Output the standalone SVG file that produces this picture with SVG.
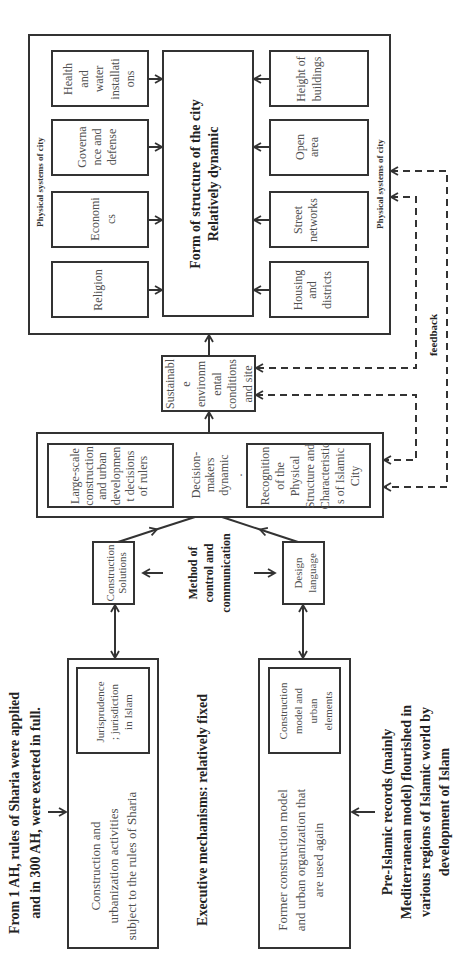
<svg xmlns="http://www.w3.org/2000/svg" width="470" height="954" viewBox="0 0 470 954">
<defs>
<style>
.bx{fill:#fff;stroke:#333;stroke-width:2}
.ln{fill:none;stroke:#333;stroke-width:2}
.dl{fill:none;stroke:#333;stroke-width:2;stroke-dasharray:7 5}
text{font-family:"Liberation Serif","Times New Roman",serif;text-anchor:middle}
.t{font-size:12px;fill:#505050}
.s{font-size:11px;fill:#505050}
.m{font-size:13px;fill:#505050}
.b{font-size:14px;font-weight:bold;fill:#222}
.b12{font-size:12px;font-weight:bold;fill:#222}
.b11{font-size:11px;font-weight:bold;fill:#222}
.ps{font-size:9px;font-weight:bold;fill:#333}
</style>
<marker id="ah" markerUnits="userSpaceOnUse" markerWidth="10" markerHeight="10" refX="8" refY="5" orient="auto-start-reverse">
<path d="M1,1 L8,5 L1,9" fill="none" stroke="#333" stroke-width="1.8"/>
</marker>
</defs>
<rect width="470" height="954" fill="#fff"/>

<g id="physical-systems">
<rect class="bx" x="29" y="35" width="361" height="299"/>
<text class="ps" transform="translate(40,182) rotate(-90)" x="0" y="3.15">Physical systems of city</text>
<text class="ps" transform="translate(380,184) rotate(-90)" x="0" y="3.15">Physical systems of city</text>
</g>

<g id="health">
<rect class="bx" x="52" y="51" width="96" height="55"/>
<text class="t" transform="translate(99,79) rotate(-90)"><tspan x="0" y="-26.8">Health</tspan><tspan x="0" dy="15.5">and</tspan><tspan x="0" dy="15.5">water</tspan><tspan x="0" dy="15.5">installati</tspan><tspan x="0" dy="15.5">ons</tspan></text>
</g>
<g id="governance">
<rect class="bx" x="52" y="120" width="96" height="55"/>
<text class="t" transform="translate(97,147) rotate(-90)"><tspan x="0" y="-10.8">Governa</tspan><tspan x="0" dy="15">nce and</tspan><tspan x="0" dy="15">defense</tspan></text>
</g>
<g id="economics">
<rect class="bx" x="52" y="192" width="96" height="55"/>
<text class="t" transform="translate(103,219) rotate(-90)"><tspan x="0" y="-3.8">Economi</tspan><tspan x="0" dy="16">cs</tspan></text>
</g>
<g id="religion">
<rect class="bx" x="52" y="262" width="96" height="55"/>
<text class="t" transform="translate(98,290) rotate(-90)"><tspan x="0" y="4.2">Religion</tspan></text>
</g>

<g id="height">
<rect class="bx" x="270" y="51" width="98" height="55"/>
<text class="t" transform="translate(309,79) rotate(-90)"><tspan x="0" y="-3.8">Height of</tspan><tspan x="0" dy="16">buildings</tspan></text>
</g>
<g id="open-area">
<rect class="bx" x="270" y="120" width="98" height="55"/>
<text class="t" transform="translate(307,147) rotate(-90)"><tspan x="0" y="-2.8">Open</tspan><tspan x="0" dy="14">area</tspan></text>
</g>
<g id="street">
<rect class="bx" x="270" y="192" width="98" height="55"/>
<text class="t" transform="translate(305,220) rotate(-90)"><tspan x="0" y="-3.3">Street</tspan><tspan x="0" dy="15">networks</tspan></text>
</g>
<g id="housing">
<rect class="bx" x="270" y="262" width="98" height="55"/>
<text class="t" transform="translate(312,290) rotate(-90)"><tspan x="0" y="-10.3">Housing</tspan><tspan x="0" dy="14.5">and</tspan><tspan x="0" dy="14.5">districts</tspan></text>
</g>

<g id="form">
<rect class="bx" x="163" y="51" width="90" height="265"/>
<text class="b" transform="translate(204,184) rotate(-90)"><tspan x="0" y="-4.1">Form of structure of the city</tspan><tspan x="0" dy="18">Relatively dynamic</tspan></text>
</g>

<g id="sustainable">
<rect class="bx" x="162" y="356" width="93" height="55"/>
<text class="t" transform="translate(209,384) rotate(-90)"><tspan x="0" y="-34.55">Sustainabl</tspan><tspan x="0" dy="15.5">e</tspan><tspan x="0" dy="15.5">environm</tspan><tspan x="0" dy="15.5">ental</tspan><tspan x="0" dy="15.5">conditions</tspan><tspan x="0" dy="15.5">and site</tspan></text>
</g>

<g id="decision">
<rect class="bx" x="37" y="433" width="346" height="84"/>
<text class="t" transform="translate(217,475) rotate(-90)"><tspan x="0" y="-16.8">Decision-</tspan><tspan x="0" dy="14">makers</tspan><tspan x="0" dy="14">dynamic</tspan><tspan x="0" dy="14">.</tspan></text>
</g>
<g id="large-scale">
<rect class="bx" x="48" y="444" width="125" height="63"/>
<text class="t" transform="translate(109,476) rotate(-90)"><tspan x="0" y="-29.8">Large-scale</tspan><tspan x="0" dy="13.6">construction</tspan><tspan x="0" dy="13.6">and urban</tspan><tspan x="0" dy="13.6">developmen</tspan><tspan x="0" dy="13.6">t decisions</tspan><tspan x="0" dy="13.6">of rulers</tspan></text>
</g>
<g id="recognition">
<rect class="bx" x="247" y="444" width="123" height="63"/>
<text class="t" transform="translate(310,476) rotate(-90)"><tspan x="0" y="-40.8">Recognition</tspan><tspan x="0" dy="15">of the</tspan><tspan x="0" dy="15">Physical</tspan><tspan x="0" dy="15">Structure and</tspan><tspan x="0" dy="15">Characteristic</tspan><tspan x="0" dy="15">s of Islamic</tspan><tspan x="0" dy="15">City</tspan></text>
</g>

<g id="construction-solutions">
<rect class="bx" x="93" y="542" width="41" height="62"/>
<text class="s" transform="translate(116,573) rotate(-90)"><tspan x="0" y="-2.4">Construction</tspan><tspan x="0" dy="12.5">Solutions</tspan></text>
</g>
<g id="design-language">
<rect class="bx" x="283" y="542" width="41" height="62"/>
<text class="s" transform="translate(305,573) rotate(-90)"><tspan x="0" y="-3.15">Design</tspan><tspan x="0" dy="14">language</tspan></text>
</g>
<g id="method">
<text class="b12" transform="translate(209,573) rotate(-90)"><tspan x="0" y="-12.3">Method of</tspan><tspan x="0" dy="16.5">control and</tspan><tspan x="0" dy="16.5">communication</tspan></text>
</g>

<g id="construction-activities">
<rect class="bx" x="68" y="659" width="90" height="289"/>
<text class="m" transform="translate(113,866) rotate(-90)"><tspan x="0" y="-13.45">Construction and</tspan><tspan x="0" dy="18">urbanization activities</tspan><tspan x="0" dy="18">subject to the rules of Sharia</tspan></text>
</g>
<g id="jurisprudence">
<rect class="bx" x="77" y="668" width="72" height="85"/>
<text class="s" transform="translate(114,712) rotate(-90)"><tspan x="0" y="-10.15">Jurisprudence</tspan><tspan x="0" dy="14">; jurisdiction</tspan><tspan x="0" dy="14">in Islam</tspan></text>
</g>

<g id="former-model">
<rect class="bx" x="259" y="659" width="91" height="289"/>
<text class="m" transform="translate(300,860) rotate(-90)"><tspan x="0" y="-13.45">Former construction model</tspan><tspan x="0" dy="18">and urban organization that</tspan><tspan x="0" dy="18">are used again</tspan></text>
</g>
<g id="construction-model">
<rect class="bx" x="269" y="668" width="71" height="85"/>
<text class="s" transform="translate(306,711) rotate(-90)"><tspan x="0" y="-18.65">Construction</tspan><tspan x="0" dy="15">model and</tspan><tspan x="0" dy="15">urban</tspan><tspan x="0" dy="15">elements</tspan></text>
</g>

<g id="sharia-title">
<text class="b" transform="translate(25,813) rotate(-90)"><tspan x="0" y="-5.6">From 1 AH, rules of Sharia were applied</tspan><tspan x="0" dy="21">and in 300 AH, were exerted in full.</tspan></text>
</g>
<g id="executive">
<text class="b" transform="translate(202,810) rotate(-90)"><tspan x="0" y="4.9">Executive mechanisms: relatively fixed</tspan></text>
</g>
<g id="pre-islamic">
<text class="b" transform="translate(416,812) rotate(-90)"><tspan x="0" y="-23.6">Pre-Islamic records (mainly</tspan><tspan x="0" dy="19">Mediterranean model) flourished in</tspan><tspan x="0" dy="19">various regions of Islamic world by</tspan><tspan x="0" dy="19">development of Islam</tspan></text>
</g>
<g id="feedback-label">
<text class="b11" transform="translate(433,335) rotate(-90)"><tspan x="0" y="3.85">feedback</tspan></text>
</g>

<g id="connectors">
<path class="ln" d="M148,79 H162" marker-end="url(#ah)"/>
<path class="ln" d="M148,147 H162" marker-end="url(#ah)"/>
<path class="ln" d="M148,220 H162" marker-end="url(#ah)"/>
<path class="ln" d="M148,290 H162" marker-end="url(#ah)"/>
<path class="ln" d="M270,79 H254" marker-end="url(#ah)"/>
<path class="ln" d="M270,147 H254" marker-end="url(#ah)"/>
<path class="ln" d="M270,220 H254" marker-end="url(#ah)"/>
<path class="ln" d="M270,290 H254" marker-end="url(#ah)"/>
<path class="ln" d="M209,356 V335" marker-end="url(#ah)"/>
<path class="ln" d="M209,433 V412" marker-end="url(#ah)"/>
<path class="ln" d="M118,542 L157,529.3" marker-end="url(#ah)"/>
<path class="ln" d="M157,529.3 L195,517"/>
<path class="ln" d="M298,542 L260,529.5" marker-end="url(#ah)"/>
<path class="ln" d="M260,529.5 L222,517"/>
<path class="ln" d="M163,573 H143" marker-end="url(#ah)"/>
<path class="ln" d="M254,573 H275" marker-end="url(#ah)"/>
<path class="ln" d="M115,605 V658" marker-start="url(#ah)" marker-end="url(#ah)"/>
<path class="ln" d="M303,605 V658" marker-start="url(#ah)" marker-end="url(#ah)"/>
<path class="ln" d="M48,812 H66" marker-end="url(#ah)"/>
<path class="ln" d="M375,812 H352" marker-end="url(#ah)"/>
<path class="dl" d="M391,171 H447 V487 H384" marker-start="url(#ah)" marker-end="url(#ah)"/>
<path class="dl" d="M391,197 H416 V368 H256" marker-start="url(#ah)" marker-end="url(#ah)"/>
<path class="dl" d="M256,395 H416 V460 H384" marker-start="url(#ah)" marker-end="url(#ah)"/>
</g>
</svg>
